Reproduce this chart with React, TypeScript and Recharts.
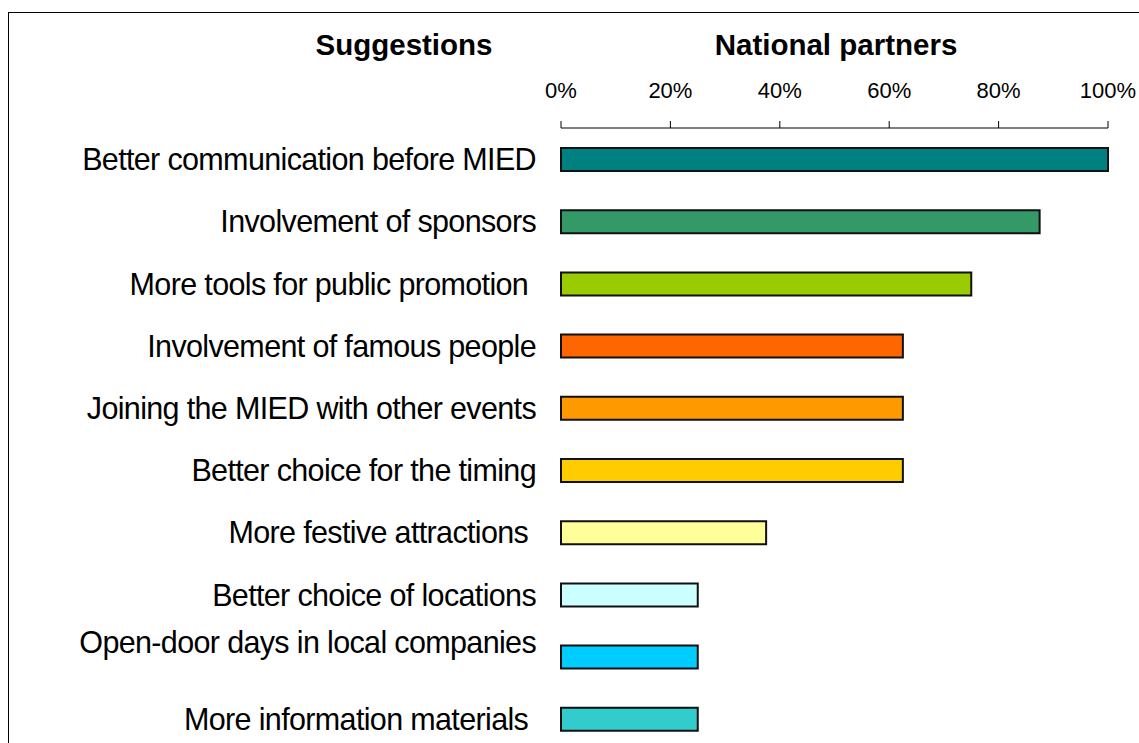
import { BarChart, Bar, XAxis, YAxis, Cell } from 'recharts';

const categories = [
  'Better communication before MIED',
  'Involvement of sponsors',
  'More tools for public promotion\u00a0',
  'Involvement of famous people',
  'Joining the MIED with other events',
  'Better choice for the timing',
  'More festive attractions\u00a0',
  'Better choice of locations',
  'Open-door days in local companies\n',
  'More information materials\u00a0',
];

// share of national partners (%)
const shares = [100, 87.5, 75, 62.5, 62.5, 62.5, 37.5, 25, 25, 25];

const barColors = [
  '#008080',
  '#339966',
  '#99CC00',
  '#FF6600',
  '#FF9900',
  '#FFCC00',
  '#FFFF99',
  '#CCFFFF',
  '#00CCFF',
  '#33CCCC',
];

const xTicks = [0, 20, 40, 60, 80, 100];

const data = categories.map((name, i) => ({ name, share: shares[i] }));

const FONT = '"Liberation Sans", Arial, sans-serif';

function CategoryTick({ x, y, payload }: any) {
  const lines = String(payload.value).split('\n');
  const lh = 30;
  const first = -((lines.length - 1) * lh) / 2 + 11;
  return (
    <text
      x={x}
      y={y}
      textAnchor="end"
      fontSize={30.5}
      letterSpacing={-0.65}
      fontFamily={FONT}
      fill="#000"
    >
      {lines.map((line, i) => (
        <tspan key={i} x={x} dy={i === 0 ? first : lh}>
          {line}
        </tspan>
      ))}
    </text>
  );
}

export default function App() {
  return (
    <div
      style={{
        position: 'fixed',
        left: 0,
        top: 0,
        width: 1139,
        height: 743,
        overflow: 'hidden',
        background: '#fff',
      }}
    >
      <div
        style={{
          position: 'absolute',
          left: 8,
          top: 12,
          width: 1200,
          height: 800,
          borderLeft: '1px solid #000',
          borderTop: '1px solid #000',
        }}
      />
      <svg width={1139} height={80} style={{ position: 'absolute', left: 0, top: 0 }}>
        <text x={404} y={55} textAnchor="middle" fontSize={29.5} fontWeight="bold" fontFamily={FONT}>
          Suggestions
        </text>
        <text x={836} y={55} textAnchor="middle" fontSize={29.5} fontWeight="bold" fontFamily={FONT}>
          National partners
        </text>
      </svg>
      <div style={{ position: 'absolute', left: 0, top: 0 }}>
        <BarChart
          width={1139}
          height={760}
          data={data}
          layout="vertical"
          margin={{ top: 88, right: 31, bottom: 10, left: 0 }}
        >
          <XAxis
            type="number"
            orientation="top"
            domain={[0, 100]}
            ticks={xTicks}
            tickFormatter={(v) => `${v}%`}
            height={40}
            tickSize={7}
            tickMargin={23}
            stroke="#000"
            tick={{ fill: '#000', fontSize: 22, fontFamily: FONT }}
          />
          <YAxis
            type="category"
            dataKey="name"
            width={561}
            interval={0}
            axisLine={false}
            tickLine={false}
            tickSize={0}
            tickMargin={25}
            tick={<CategoryTick />}
          />
          <Bar dataKey="share" barSize={23} stroke="#111" strokeWidth={2} isAnimationActive={false}>
            {data.map((d, i) => (
              <Cell key={d.name} fill={barColors[i]} />
            ))}
          </Bar>
        </BarChart>
      </div>
    </div>
  );
}
